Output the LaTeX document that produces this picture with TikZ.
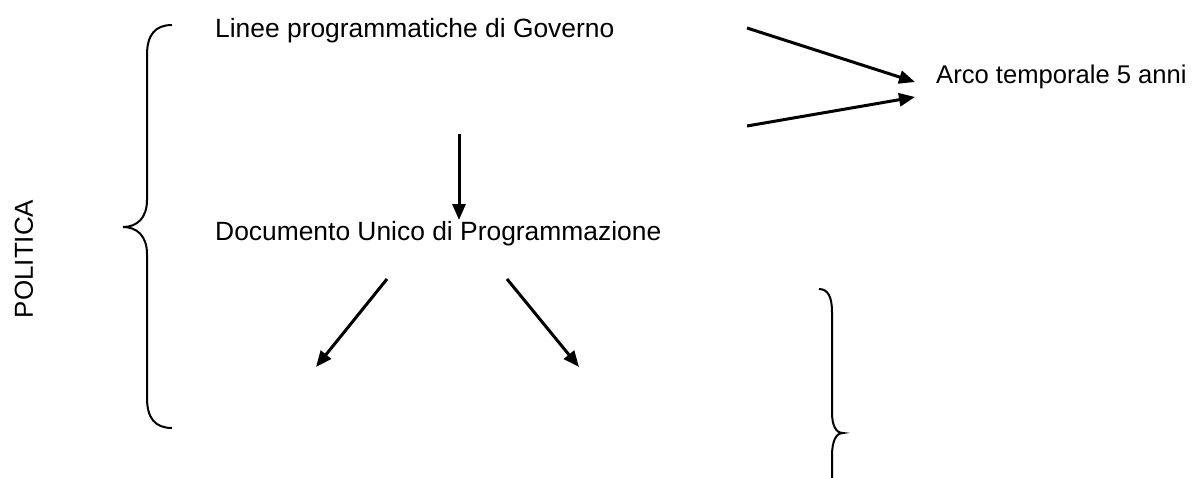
\documentclass[tikz,border=0pt]{standalone}
\usepackage{fontspec}
\setmainfont{Liberation Sans}
\usetikzlibrary{arrows.meta}
\begin{document}
\begin{tikzpicture}[x=1pt,y=-1pt,
  lbl/.style={inner sep=0pt,anchor=base west,font=\fontsize{26.4}{30}\selectfont},
  arr/.style={line width=3pt,-{Triangle[length=16pt,width=13pt]}},
  brace/.style={line width=2pt}]
\useasboundingbox (0,0) rectangle (1199,477);
\clip (0,0) rectangle (1199,477);
\node[lbl] (linee) at (215,37) {Linee programmatiche di Governo};
\node[lbl,font=\fontsize{25.6}{30}\selectfont] (arco) at (936,83) {Arco temporale 5 anni};
\node[lbl] (dup) at (215,240) {Documento Unico di Programmazione};
\node[inner sep=0pt,rotate=90,font=\fontsize{26}{30}\selectfont] (pol) at (24,259) {POLITICA};
% coordinates
\coordinate (a1s) at (747,28);
\coordinate (a1e) at (915,82);
\coordinate (a2s) at (747,126);
\coordinate (a2e) at (915,97);
\coordinate (d1s) at (459,134);
\coordinate (d1e) at (459,220);
\coordinate (l1s) at (387,279);
\coordinate (l1e) at (316,367);
\coordinate (r1s) at (507,279);
\coordinate (r1e) at (579,367);
\draw[arr] (a1s) -- (a1e);
\draw[arr] (a2s) -- (a2e);
\draw[arr] (d1s) -- (d1e);
\draw[arr] (l1s) -- (l1e);
\draw[arr] (r1s) -- (r1e);
% left brace
\draw[brace] (172,25) .. controls (155,25) and (147,35) .. (147,55) -- (147,200)
  .. controls (147,218) and (137,227) .. (123,227)
  .. controls (137,227) and (147,236) .. (147,254) -- (147,398)
  .. controls (147,418) and (155,428) .. (172,428);
% right brace
\draw[brace] (819,289) .. controls (828,289) and (832,297) .. (832,312) -- (832,412)
  .. controls (832,426) and (836,433) .. (843,433)
  .. controls (836,433) and (832,441) .. (832,456) -- (832,480);
\end{tikzpicture}
\end{document}
